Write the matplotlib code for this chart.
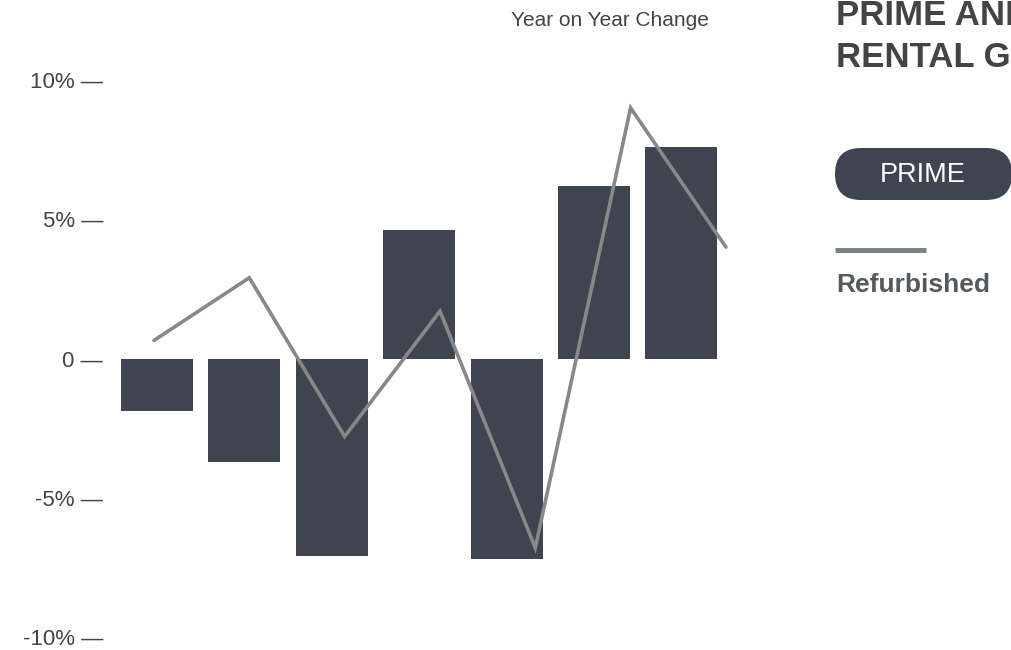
import matplotlib.pyplot as plt
from matplotlib.patches import FancyBboxPatch

plt.rcParams['font.family'] = ['Liberation Sans', 'DejaVu Sans']

# dados: variacao anual (%)
prime = [-1.9, -3.7, -7.1, 4.6, -7.2, 6.2, 7.6]
refurbished = [0.65, 2.9, -2.8, 1.7, -6.8, 9.0, 4.0]
tick_vals = [-10, -5, 0, 5, 10]
tick_labels = ['-10% \u2014', '-5% \u2014', '0 \u2014', '5% \u2014', '10% \u2014']

bar_color = '#3e4550'
line_color = '#888888'
text_color = '#444444'

W, H = 1011, 650
fig = plt.figure(figsize=(W / 100, H / 100), dpi=100)
fig.patch.set_facecolor('white')

# eixo principal (barras)
ax = fig.add_axes([110 / W, 0, 635 / W, 610 / H])
ax.bar(range(len(prime)), prime, width=0.824, color=bar_color, zorder=2)
ax.set_xlim(-0.538, 6.728)
ax.set_ylim(-10.47, 11.44)
ax.set_yticks(tick_vals)
ax.set_yticklabels(tick_labels, fontsize=16, color=text_color)
ax.tick_params(axis='y', length=0, pad=5)
ax.set_xticks([])
for s in ax.spines.values():
    s.set_visible(False)

# linha (outra escala no x)
ax2 = ax.twiny()
ax2.plot(range(len(refurbished)), refurbished, color=line_color, lw=2.6,
         solid_capstyle='round', solid_joinstyle='miter', zorder=3)
ax2.set_xlim(-0.4615, 6.2)
ax2.set_xticks([])
for s in ax2.spines.values():
    s.set_visible(False)

fig.text(610 / W, 1 - 21 / H, 'Year on Year Change', ha='center', va='center',
         fontsize=15, color=text_color)

# legenda e titulo em coordenadas de pixel
lg = fig.add_axes([0, 0, 1, 1], zorder=5)
lg.set_xlim(0, W)
lg.set_ylim(H, 0)
lg.axis('off')
lg.patch.set_alpha(0)

lg.text(836, 25, 'PRIME AND REFURBISHED', fontsize=25, fontweight='bold',
        color=text_color, va='baseline', ha='left')
lg.text(836, 67, 'RENTAL GROWTH', fontsize=25, fontweight='bold',
        color=text_color, va='baseline', ha='left')

pill = FancyBboxPatch((835, 148), 177, 52, boxstyle='round,pad=0,rounding_size=26',
                      facecolor=bar_color, edgecolor='none')
lg.add_patch(pill)
lg.text(923, 175, 'PRIME', fontsize=19.5, color='white', ha='center', va='center')

lg.plot([835, 926], [250, 250], color='#7b8282', lw=3.6, solid_capstyle='butt')
lg.text(836, 292, 'Refurbished', fontsize=19, fontweight='bold',
        color='#55595c', va='baseline', ha='left')

fig.savefig('out.png', dpi=100)
